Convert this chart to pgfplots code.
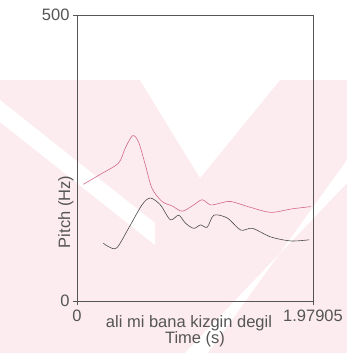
\documentclass[border=0pt]{standalone}
\usepackage{pgfplots}
\pgfplotsset{compat=1.18}
\usepackage{fontspec}
\setmainfont{Liberation Sans}
\definecolor{txtgray}{RGB}{85,85,85}
\definecolor{pitchred}{RGB}{210,105,140}
\definecolor{pitchblack}{RGB}{75,75,75}
\definecolor{wmpink}{RGB}{253,236,239}
\begin{document}
\begin{tikzpicture}
\useasboundingbox (0bp,0bp) rectangle (347bp,353bp);
% faint watermark of the scanned page (background only)
\fill[wmpink] (0bp,0bp) rectangle (347bp,273bp);
\fill[white] (140bp,273bp) -- (280bp,273bp) -- (200bp,175bp) -- cycle;
\fill[white] (0bp,253bp) -- (0bp,231bp) -- (155bp,108bp) -- (155bp,130bp) -- cycle;
\fill[white] (347bp,193bp) -- (347bp,170bp) -- (185bp,0bp) -- (208bp,0bp) -- cycle;
\begin{axis}[
  at={(77bp,52bp)}, anchor=south west,
  scale only axis, width=236bp, height=286bp,
  xmin=0, xmax=1.97905, ymin=0, ymax=500,
  xtick={0,1.97905}, xticklabels={0,1.97905},
  ytick={0,500},
  xtick pos=bottom, ytick pos=left,
  tick align=outside, major tick length=4bp,
  axis line style={txtgray, line width=0.6pt},
  tick style={txtgray, line width=0.6pt},
  every tick label/.append style={font=\fontsize{16.5bp}{18bp}\selectfont, text=txtgray},
  /pgf/number format/assume math mode=true,
  xticklabel style={yshift=-1bp},
  ylabel={Pitch (Hz)},
  ylabel style={font=\fontsize{16.5bp}{18bp}\selectfont, text=txtgray, at={(axis description cs:0,0.5)}, xshift=-54bp},
  xlabel={Time (s)},
  xlabel style={font=\fontsize{16.5bp}{18bp}\selectfont, text=txtgray, yshift=-4bp},
  clip=false,
]
\addplot[pitchred, line width=0.6pt, smooth, tension=0.5] coordinates {
(0.053,204) (0.20,222) (0.348,241) (0.404,267) (0.466,289) (0.516,278)
(0.573,238) (0.629,197) (0.713,174) (0.80,166) (0.882,157) (0.979,168)
(1.050,177) (1.120,168) (1.20,171) (1.289,174) (1.45,164) (1.625,155)
(1.80,161) (1.962,165)
};
\addplot[pitchblack, line width=0.6pt, smooth, tension=0.5] coordinates {
(0.221,101) (0.264,95) (0.334,93) (0.432,127) (0.545,168) (0.615,180)
(0.699,168) (0.783,142) (0.853,150) (0.910,136) (0.979,127) (1.036,133)
(1.092,129) (1.148,150) (1.261,145) (1.373,124) (1.471,127) (1.625,112)
(1.794,105) (1.948,107)
};
\node[font=\fontsize{16.5bp}{18bp}\selectfont, text=txtgray] at (axis description cs:0.5,0) [xshift=-6bp, yshift=-22bp] {ali mi bana kizgin degil};
\end{axis}
\end{tikzpicture}
\end{document}
